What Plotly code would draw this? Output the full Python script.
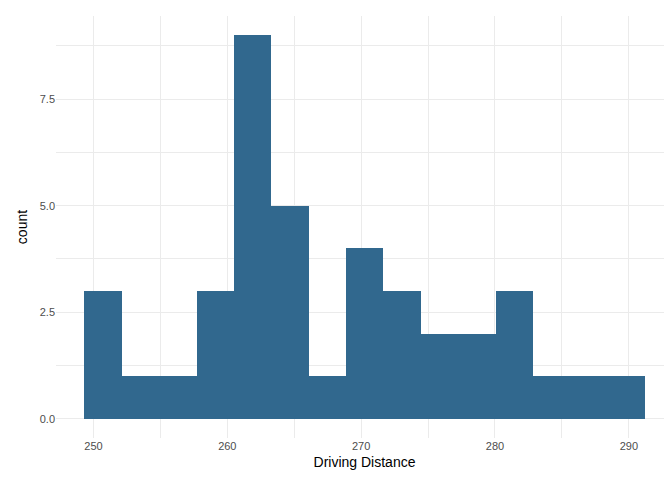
import plotly.graph_objects as go

bin_start = 249.32
bin_width = 2.793
counts = [3, 1, 1, 3, 9, 5, 1, 4, 3, 2, 2, 3, 1, 1, 1]
centers = [bin_start + bin_width * (i + 0.5) for i in range(len(counts))]

fig = go.Figure(go.Bar(x=centers, y=counts, width=bin_width,
                       marker=dict(color="#31688E", line=dict(width=0))))

grid = "#EBEBEB"
fig.update_layout(
    width=672, height=480, plot_bgcolor="white", paper_bgcolor="white",
    margin=dict(l=48, r=7, t=8, b=50), bargap=0, showlegend=False,
    font=dict(family="Liberation Sans", color="#4D4D4D", size=11),
    xaxis=dict(range=[247.2, 293.3], tickvals=[250, 260, 270, 280, 290],
               showgrid=True, gridcolor=grid, zeroline=False, ticks="",
               minor=dict(tickvals=[255, 265, 275, 285], showgrid=True, gridcolor=grid),
               title=dict(text="Driving Distance", font=dict(size=14, color="black"), standoff=6)),
    yaxis=dict(range=[-0.45, 9.45], tickvals=[0, 2.5, 5, 7.5], ticktext=["0.0", "2.5", "5.0", "7.5"],
               showgrid=True, gridcolor=grid, zeroline=False, ticks="",
               minor=dict(tickvals=[1.25, 3.75, 6.25, 8.75], showgrid=True, gridcolor=grid),
               title=dict(text="count", font=dict(size=14, color="black"), standoff=8)),
)
fig.write_html("out.html")
